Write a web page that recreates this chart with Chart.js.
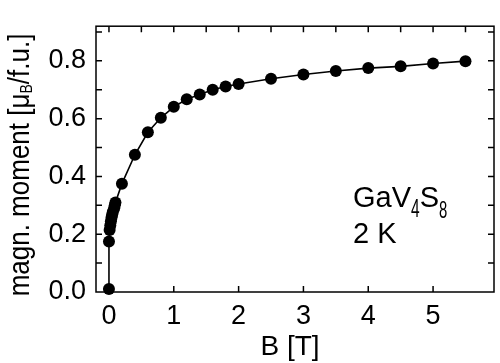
<!DOCTYPE html>
<html>
<head>
<meta charset="utf-8">
<script src="https://cdn.jsdelivr.net/npm/chart.js@4.4.0/dist/chart.umd.js"></script>
<style>
  html, body { margin: 0; padding: 0; background: #fff; }
  #wrap { width: 500px; height: 363px; }
</style>
</head>
<body>
<div id="wrap"><canvas id="myChart" width="500" height="363"></canvas></div>
<script>
// magnetisation curve of GaV4S8 at 2 K
const fieldB = [0, 0, 0.01, 0.02, 0.03, 0.04, 0.05, 0.06, 0.08, 0.09, 0.1, 0.2, 0.4, 0.6, 0.8, 1.0, 1.2, 1.4, 1.6, 1.8, 2.0, 2.5, 3.0, 3.5, 4.0, 4.5, 5.0, 5.5];
const moment = [0.01, 0.175, 0.215, 0.23, 0.245, 0.258, 0.268, 0.278, 0.29, 0.3, 0.31, 0.375, 0.475, 0.553, 0.603, 0.641, 0.667, 0.684, 0.7, 0.711, 0.72, 0.738, 0.753, 0.765, 0.775, 0.781, 0.791, 0.799];

const xTicks = [0, 1, 2, 3, 4, 5];
const yTicks = [0, 0.2, 0.4, 0.6, 0.8];
const xTopMarks = [0, 0.5, 1, 1.5, 2, 2.5, 3, 3.5, 4, 4.5, 5, 5.5];
const yMinorMarks = [0.1, 0.2, 0.3, 0.4, 0.5, 0.6, 0.7, 0.8, 0.9];

const FONT = '"Liberation Sans", Arial, sans-serif';

// draw a run of text pieces (for subscripts); parts: {t, size, dy, sx, sy}
function drawRich(ctx, x, y, parts, align) {
    let total = 0;
    const widths = parts.map(p => {
        ctx.font = p.size + 'px ' + FONT;
        const w = ctx.measureText(p.t).width * (p.sx || 1);
        total += w;
        return w;
    });
    let cx = align === 'center' ? x - total / 2 : x;
    parts.forEach((p, i) => {
        ctx.save();
        ctx.font = p.size + 'px ' + FONT;
        ctx.translate(cx, y + (p.dy || 0));
        ctx.scale(p.sx || 1, p.sy || 1);
        ctx.fillText(p.t, 0, 0);
        ctx.restore();
        cx += widths[i];
    });
}

const framePlugin = {
    id: 'frame',
    beforeDatasetsDraw(chart) {
        const { ctx, chartArea: a, scales } = chart;
        const xs = scales.x, ys = scales.y;
        ctx.save();
        ctx.strokeStyle = '#000';
        ctx.lineWidth = 1.5;
        ctx.strokeRect(a.left, a.top, a.right - a.left, a.bottom - a.top);
        ctx.beginPath();
        const len = 6;
        yMinorMarks.forEach(v => {
            const py = ys.getPixelForValue(v);
            ctx.moveTo(a.left, py); ctx.lineTo(a.left + len, py);
            ctx.moveTo(a.right, py); ctx.lineTo(a.right - len, py);
        });
        xTopMarks.forEach(v => {
            const px = xs.getPixelForValue(v);
            ctx.moveTo(px, a.top); ctx.lineTo(px, a.top + len);
        });
        xTicks.forEach(v => {
            const px = xs.getPixelForValue(v);
            ctx.moveTo(px, a.bottom); ctx.lineTo(px, a.bottom - len);
        });
        ctx.stroke();
        ctx.restore();
    },
    afterDraw(chart) {
        const { ctx } = chart;
        ctx.save();
        ctx.fillStyle = '#000';
        ctx.textBaseline = 'alphabetic';

        // x axis title
        drawRich(ctx, 290, 355, [{ t: 'B [T]', size: 28 }], 'center');

        // y axis title, rotated
        ctx.save();
        ctx.translate(29, 165);
        ctx.rotate(-Math.PI / 2);
        drawRich(ctx, 0, 0, [
            { t: 'magn. moment [\u03BC', size: 26, sy: 1.12 },
            { t: 'B', size: 14, dy: 3, sy: 1.12 },
            { t: '/f.u.]', size: 26, sy: 1.12 }
        ], 'center');
        ctx.restore();

        // sample label
        drawRich(ctx, 353, 207, [
            { t: 'GaV', size: 29 },
            { t: '4', size: 25, dy: 10, sx: 0.62 },
            { t: 'S', size: 29 },
            { t: '8', size: 24, dy: 11, sx: 0.62 }
        ]);
        drawRich(ctx, 353, 243, [{ t: '2 K', size: 29 }]);
        ctx.restore();
    }
};

const points = fieldB.map((b, i) => ({ x: b, y: moment[i] }));

new Chart(document.getElementById('myChart'), {
    type: 'scatter',
    data: {
        datasets: [{
            data: points,
            showLine: true,
            borderColor: '#000',
            borderWidth: 1.6,
            backgroundColor: '#000',
            pointBackgroundColor: '#000',
            pointBorderColor: '#000',
            pointBorderWidth: 0,
            pointRadius: 6,
            tension: 0,
            clip: false
        }]
    },
    options: {
        responsive: false,
        animation: false,
        devicePixelRatio: 1,
        layout: { padding: { top: 16, right: 2, left: 0, bottom: 0 } },
        plugins: { legend: { display: false }, tooltip: { enabled: false } },
        scales: {
            x: {
                type: 'linear',
                min: -0.2,
                max: 5.94,
                afterBuildTicks: s => { s.ticks = xTicks.map(v => ({ value: v })); },
                afterFit: s => { s.height = 71; },
                grid: { display: false, drawTicks: false },
                border: { display: false },
                ticks: {
                    padding: 8,
                    color: '#000',
                    font: { family: FONT, size: 27 },
                    callback: v => String(v)
                }
            },
            y: {
                type: 'linear',
                min: 0,
                max: 0.92,
                afterBuildTicks: s => { s.ticks = yTicks.map(v => ({ value: v })); },
                afterFit: s => { s.width = 96; },
                grid: { display: false, drawTicks: false },
                border: { display: false },
                ticks: {
                    padding: 10,
                    color: '#000',
                    font: { family: FONT, size: 27 },
                    callback: v => v.toFixed(1)
                }
            }
        }
    },
    plugins: [framePlugin]
});
</script>
</body>
</html>
